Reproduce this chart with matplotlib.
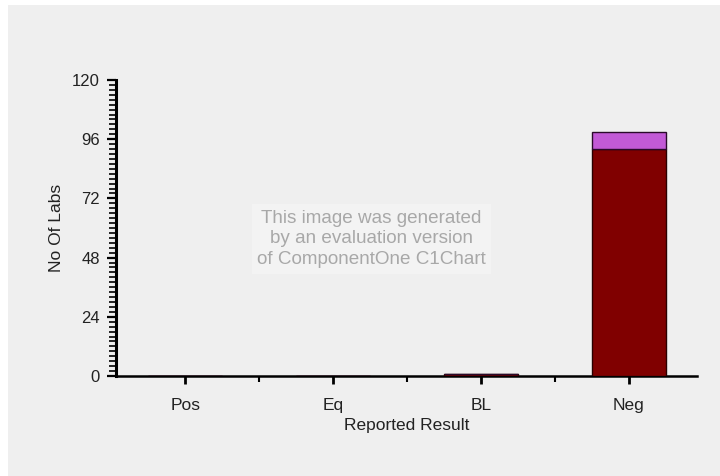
import matplotlib
matplotlib.use("Agg")
import matplotlib.pyplot as plt
from matplotlib.ticker import MultipleLocator, FixedLocator
from matplotlib.patches import Rectangle

categories = ["Pos", "Eq", "BL", "Neg"]
series_lower = [0, 0, 1, 92]
series_upper = [0, 0, 0, 7]
y_ticks = [0, 24, 48, 72, 96, 120]

plt.rcParams['font.family'] = ['Liberation Sans', 'DejaVu Sans']
bg = "#efefef"
fig = plt.figure(figsize=(7.2, 4.76), dpi=100, facecolor="white")
fig.patches.append(Rectangle((8/720, 0), 1, 1 - 5/476, transform=fig.transFigure,
                             facecolor=bg, edgecolor="none", zorder=-10))
ax = fig.add_axes([0.161, 0.210, 0.807, 0.622], facecolor=bg)

x = list(range(len(categories)))
ax.bar(x, series_lower, width=0.5, color="#800000", edgecolor="#2a0000", linewidth=1.0, zorder=3)
ax.bar(x, series_upper, width=0.5, bottom=series_lower, color="#c25ad6", edgecolor="#2a0a2a", linewidth=1.0, zorder=3)

ax.set_xlim(-0.47, 3.46)
ax.set_ylim(0, 120)
ax.set_xticks(x)
ax.set_xticklabels(categories, fontsize=12.5, color="#222222")
ax.xaxis.set_minor_locator(FixedLocator([0.5, 1.5, 2.5]))
ax.set_yticks(y_ticks)
ax.set_yticklabels([str(v) for v in y_ticks], fontsize=12, color="#222222")
ax.yaxis.set_minor_locator(MultipleLocator(2))

for s in ["top", "right"]:
    ax.spines[s].set_visible(False)
ax.spines["left"].set_linewidth(2.2)
ax.spines["bottom"].set_linewidth(1.8)

ax.tick_params(axis="x", which="major", direction="out", length=5.5, width=2, pad=10)
ax.tick_params(axis="x", which="minor", direction="out", length=4.5, width=1.5)
ax.tick_params(axis="y", which="major", direction="out", length=6.5, width=1.6, pad=5)
ax.tick_params(axis="y", which="minor", direction="out", length=5, width=1.2)

ax.set_xlabel("Reported Result", fontsize=12.5, color="#222222", labelpad=4)
ax.set_ylabel("No Of Labs", fontsize=12.5, color="#222222", labelpad=6)

fig.text(0.516, 0.498, "This image was generated\nby an evaluation version\nof ComponentOne C1Chart",
         ha="center", va="center", fontsize=13.6, color="#a8a8a8", linespacing=1.3,
         bbox=dict(facecolor="#f3f3f3", edgecolor="none", pad=4), zorder=10)

fig.savefig("out.png", dpi=100, facecolor="white")
